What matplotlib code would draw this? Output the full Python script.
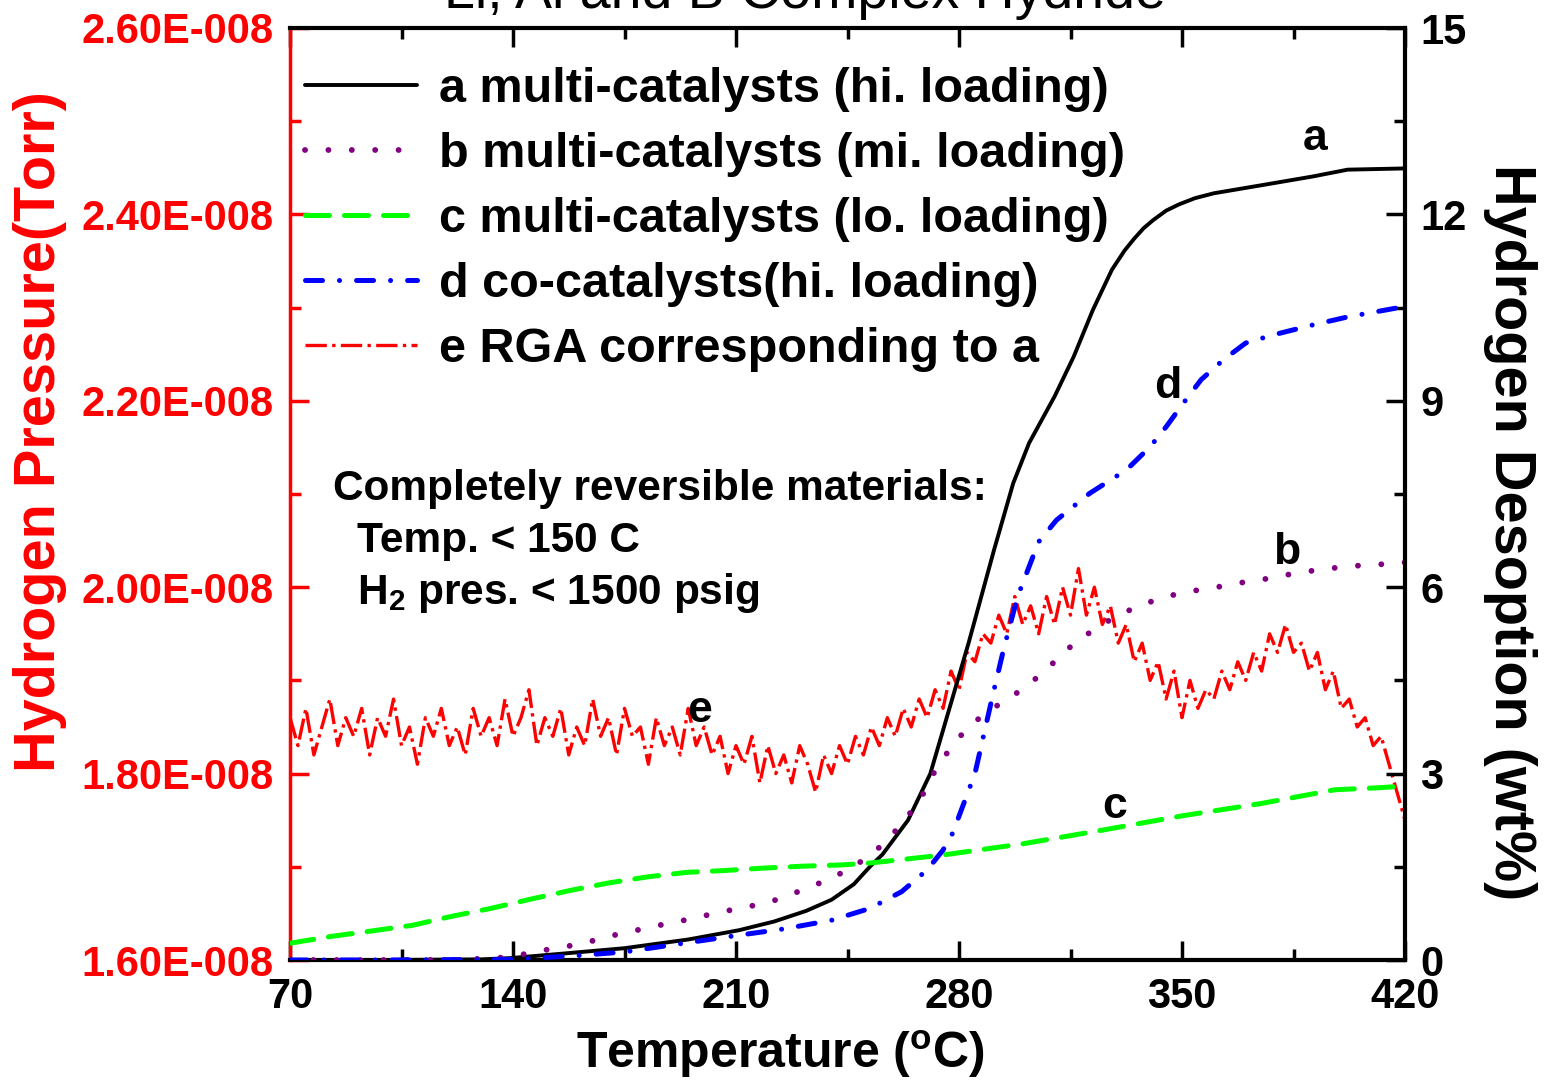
#!/usr/bin/env python
# -*- coding: utf-8 -*-

"""
Hydrogen desorption of Li, Al and B complex hydride, with RGA trace
"""

import numpy as np
import matplotlib
matplotlib.use('Agg')
import matplotlib.pyplot as plt
from matplotlib.ticker import MultipleLocator, FuncFormatter

plt.rcParams['font.family'] = ['Liberation Sans', 'DejaVu Sans']
plt.rcParams['font.weight'] = 'bold'
plt.rcParams['mathtext.fontset'] = 'custom'
plt.rcParams['mathtext.rm'] = 'Liberation Sans:bold'
plt.rcParams['mathtext.bf'] = 'Liberation Sans:bold'
plt.rcParams['mathtext.it'] = 'Liberation Sans:bold'

# ---- data ----
# a: multi-catalysts, high loading (wt%)
a_temp = [70, 100, 130, 139, 155, 175, 195, 211, 222, 232, 240, 247, 252, 256, 264, 271,
          275, 279, 283, 287, 291, 297, 302, 310, 316, 322, 328, 332, 335, 338, 341, 345,
          349, 354, 360, 375, 391, 402, 420]
a_wt = [0, 0, 0.01, 0.03, 0.10, 0.19, 0.33, 0.48, 0.62, 0.79, 0.97, 1.22, 1.50, 1.70, 2.25,
        3.0, 3.7, 4.4, 5.1, 5.85, 6.6, 7.67, 8.32, 9.07, 9.71, 10.46, 11.11, 11.42, 11.61,
        11.78, 11.91, 12.06, 12.16, 12.26, 12.34, 12.47, 12.61, 12.72, 12.74]

# b: multi-catalysts, middle loading (wt%)
b_temp = [70, 120, 135, 142, 150, 156, 163, 170, 178, 185, 192, 199, 206, 214, 221, 228,
          235, 244, 251, 257, 263, 268, 272, 277, 282.5, 289, 296.6, 303, 310, 316.4,
          323.4, 329.6, 337, 344.4, 351.8, 359, 366.6, 374, 380.7, 388.8, 396, 403.5,
          409, 416.7, 420]
b_wt = [0, 0, 0.03, 0.08, 0.16, 0.21, 0.28, 0.38, 0.47, 0.55, 0.62, 0.70, 0.78, 0.86, 0.94,
        1.07, 1.21, 1.42, 1.64, 1.90, 2.25, 2.60, 3.0, 3.39, 3.73, 4.0, 4.24, 4.48, 4.80,
        5.11, 5.35, 5.54, 5.71, 5.84, 5.93, 5.98, 6.06, 6.11, 6.18, 6.25, 6.30, 6.34,
        6.36, 6.38, 6.40]

# c: multi-catalysts, low loading (wt%)
c_temp = [70, 83, 96, 108.6, 120.5, 133, 145.6, 158, 170, 182.5, 194.5, 206.4, 219, 231,
          243, 252, 275, 300, 325, 350, 375, 398, 411, 420]
c_wt = [0.27, 0.38, 0.47, 0.56, 0.70, 0.83, 0.98, 1.12, 1.24, 1.34, 1.41, 1.44, 1.48, 1.51,
        1.53, 1.56, 1.69, 1.87, 2.09, 2.32, 2.52, 2.74, 2.77, 2.80]

# d: co-catalysts, high loading (wt%)
d_temp = [70, 100, 140, 160, 175, 195, 211, 225, 240, 252, 262, 270, 275, 278, 285, 290.5,
          294, 298.4, 305, 310.6, 321, 332.6, 340, 345, 350.4, 356, 363, 370, 378.6, 391,
          402, 417, 420]
d_wt = [0, 0, 0.01, 0.07, 0.13, 0.28, 0.40, 0.50, 0.64, 0.83, 1.10, 1.45, 1.77, 2.04, 3.0,
        4.24, 5.0, 5.85, 6.73, 7.08, 7.51, 7.89, 8.26, 8.58, 8.96, 9.34, 9.66, 9.93, 10.06,
        10.22, 10.35, 10.49, 10.52]

# e: RGA hydrogen pressure corresponding to a (1E-008 Torr), sampled every 2.5 C
e_temp = np.arange(70, 420.01, 2.5)
e_pres = [1.86, 1.83, 1.87, 1.82, 1.85, 1.88, 1.83, 1.86, 1.84, 1.87,
          1.82, 1.86, 1.84, 1.88, 1.83, 1.85, 1.81, 1.86, 1.84, 1.87,
          1.83, 1.85, 1.82, 1.87, 1.84, 1.86, 1.83, 1.88, 1.84, 1.86,
          1.89, 1.83, 1.86, 1.84, 1.87, 1.82, 1.85, 1.83, 1.88, 1.84,
          1.86, 1.82, 1.87, 1.84, 1.85, 1.81, 1.86, 1.83, 1.85, 1.82,
          1.87, 1.83, 1.85, 1.82, 1.84, 1.80, 1.83, 1.81, 1.84, 1.79,
          1.83, 1.80, 1.82, 1.79, 1.83, 1.81, 1.78, 1.82, 1.80, 1.83,
          1.81, 1.84, 1.82, 1.85, 1.83, 1.86, 1.84, 1.87, 1.85, 1.88,
          1.86, 1.89, 1.87, 1.91, 1.89, 1.93, 1.92, 1.95, 1.94, 1.97,
          1.95, 1.99, 1.96, 1.98, 1.95, 1.99, 1.96, 2.00, 1.97, 2.02,
          1.97, 2.00, 1.96, 1.98, 1.94, 1.96, 1.92, 1.94, 1.90, 1.92,
          1.88, 1.91, 1.86, 1.90, 1.87, 1.89, 1.88, 1.91, 1.89, 1.92,
          1.90, 1.93, 1.91, 1.95, 1.93, 1.96, 1.93, 1.94, 1.91, 1.93,
          1.89, 1.91, 1.87, 1.88, 1.85, 1.86, 1.83, 1.84, 1.81, 1.78,
          1.75]

legend_labels = ["a multi-catalysts (hi. loading)",
                 "b multi-catalysts (mi. loading)",
                 "c multi-catalysts (lo. loading)",
                 "d co-catalysts(hi. loading)",
                 "e RGA corresponding to a"]

W, H = 1544, 1082


def fx(px):
    return px / W


def fy(py):
    return 1 - py / H


fig = plt.figure(figsize=(W / 100, H / 100), dpi=100)
ax = fig.add_axes([fx(290), fy(960), (1405 - 290) / W, (960 - 28) / H])
ax2 = ax.twinx()

# RGA trace on the left (pressure) axis
line_e, = ax.plot(e_temp, e_pres, color='red', lw=2.4, linestyle='-.')

# desorption curves on the right (wt%) axis
line_a, = ax2.plot(a_temp, a_wt, color='black', lw=2.8, solid_capstyle='round',
                   solid_joinstyle='round')
line_b, = ax2.plot(b_temp, b_wt, color='#800080', lw=4.2,
                   linestyle=(0, (0.01, 4.0)), dash_capstyle='round')
line_c, = ax2.plot(c_temp, c_wt, color='#00ff00', lw=3.6,
                   linestyle=(0, (4.8, 3.0)), dash_capstyle='round')
line_d, = ax2.plot(d_temp, d_wt, color='blue', lw=3.6,
                   linestyle=(0, (3.4, 3.4, 0.01, 3.4)), dash_capstyle='round')

ax.set_xlim(70, 420)
ax.set_ylim(1.6, 2.6)
ax2.set_ylim(0, 15)

# spines
for s in ['top', 'bottom']:
    ax.spines[s].set_linewidth(3)
ax.spines['left'].set_color('red')
ax.spines['left'].set_linewidth(2.5)
ax.spines['right'].set_visible(False)
ax2.spines['left'].set_visible(False)
ax2.spines['top'].set_visible(False)
ax2.spines['bottom'].set_visible(False)
ax2.spines['right'].set_linewidth(3)

# x ticks
ax.xaxis.set_major_locator(MultipleLocator(70))
ax.xaxis.set_minor_locator(MultipleLocator(35))
ax.tick_params(axis='x', which='both', direction='in', top=True, width=2.5,
               labelsize=30, pad=12)
ax.tick_params(axis='x', which='major', length=14)
ax.tick_params(axis='x', which='minor', length=8)

# left ticks (pressure)
ax.yaxis.set_major_locator(MultipleLocator(0.2))
ax.yaxis.set_minor_locator(MultipleLocator(0.1))
ax.yaxis.set_major_formatter(FuncFormatter(lambda v, p: f"{v:.2f}E-008"))
ax.tick_params(axis='y', which='both', direction='in', color='red', labelcolor='red',
               width=2.5, labelsize=30, pad=12)
ax.tick_params(axis='y', which='major', length=14)
ax.tick_params(axis='y', which='minor', length=8)

# right ticks (wt%)
ax2.yaxis.set_major_locator(MultipleLocator(3))
ax2.yaxis.set_minor_locator(MultipleLocator(1.5))
ax2.tick_params(axis='y', which='both', direction='in', width=2.5, labelsize=30, pad=11)
ax2.tick_params(axis='y', which='major', length=14)
ax2.tick_params(axis='y', which='minor', length=8)

# axis titles
fig.text(fx(40), fy(432), 'Hydrogen Pressure(Torr)', color='red', fontsize=41.5,
         rotation=90, ha='center', va='center')
fig.text(fx(1510), fy(532), 'Hydrogen Desoption (wt%)', fontsize=41.5,
         rotation=270, ha='center', va='center')
fig.text(fx(780), fy(1054), r'Temperature ($^{\mathbf{o}}$C)', fontsize=36,
         ha='center', va='center')
fig.text(fx(805), fy(8), 'Li, Al and B Complex Hydride', fontsize=40,
         fontweight='normal', ha='center', va='baseline')

# legend
leg = ax2.legend([line_a, line_b, line_c, line_d, line_e], legend_labels,
                 loc='upper left', bbox_to_anchor=(fx(305), fy(67)),
                 bbox_transform=fig.transFigure, frameon=False, fontsize=35,
                 handlelength=2.3, handletextpad=0.45, labelspacing=0.41,
                 borderpad=0, borderaxespad=0)

# curve letters
ax2.text(391.7, 13.04, 'a', fontsize=32, ha='center', va='baseline')
ax2.text(382.9, 6.37, 'b', fontsize=32, ha='center', va='baseline')
ax2.text(328.9, 2.29, 'c', fontsize=32, ha='center', va='baseline')
ax2.text(345.6, 9.05, 'd', fontsize=32, ha='center', va='baseline')
ax2.text(198.7, 3.83, 'e', fontsize=32, ha='center', va='baseline')

# notes
fig.text(fx(333), fy(500), 'Completely reversible materials:', fontsize=30.5,
         ha='left', va='baseline')
fig.text(fx(357), fy(552), 'Temp. < 150 C', fontsize=30.5, ha='left', va='baseline')
fig.text(fx(357), fy(604), r'H$_2$ pres. < 1500 psig', fontsize=30.5,
         ha='left', va='baseline')

plt.savefig('out.png', dpi=100)
plt.close()
